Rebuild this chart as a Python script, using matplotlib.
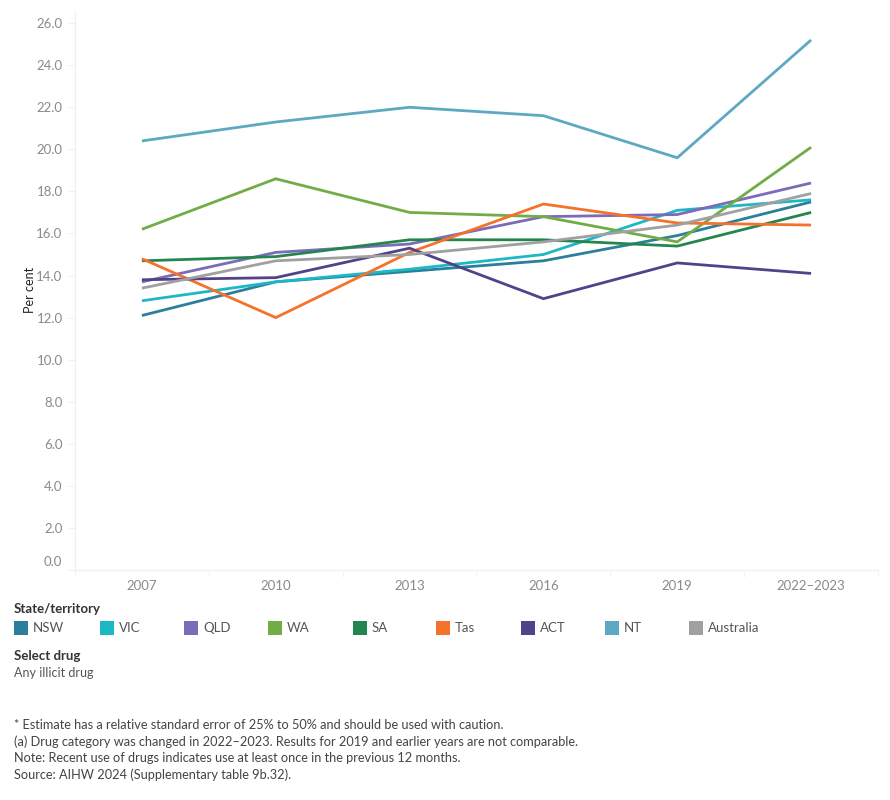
import matplotlib
matplotlib.use("Agg")
import matplotlib.pyplot as plt
from matplotlib.patches import Rectangle
import matplotlib.transforms as mtransforms

years = ["2007", "2010", "2013", "2016", "2019", "2022–2023"]
states = ["NSW", "VIC", "QLD", "WA", "SA", "Tas", "ACT", "NT", "Australia"]
colors = ["#2b7f9b", "#1db8c6", "#7b6bb8", "#72ac46", "#25854f", "#f4722b", "#52428a", "#5da9c1", "#a0a0a0"]

nsw = [12.1, 13.7, 14.2, 14.7, 15.9, 17.5]
vic = [12.8, 13.7, 14.3, 15.0, 17.1, 17.6]
qld = [13.7, 15.1, 15.5, 16.8, 16.9, 18.4]
wa = [16.2, 18.6, 17.0, 16.8, 15.6, 20.1]
sa = [14.7, 14.9, 15.7, 15.7, 15.4, 17.0]
tas = [14.8, 12.0, 15.1, 17.4, 16.5, 16.4]
act = [13.8, 13.9, 15.3, 12.9, 14.6, 14.1]
nt = [20.4, 21.3, 22.0, 21.6, 19.6, 25.2]
aus = [13.4, 14.7, 15.0, 15.6, 16.4, 17.9]
series = [nsw, vic, qld, wa, sa, tas, act, nt, aus]

yticks = [0, 2, 4, 6, 8, 10, 12, 14, 16, 18, 20, 22, 24, 26]

plt.rcParams['font.family'] = ['Lato', 'DejaVu Sans']

W, H = 890, 800
fig = plt.figure(figsize=(W / 100, H / 100), dpi=100)
ax = fig.add_axes([75 / W, 1 - 570 / H, (878 - 75) / W, (570 - 12) / H])

x = list(range(len(years)))
for vals, c in zip(series, colors):
    ax.plot(x, vals, color=c, lw=2.0, solid_capstyle='butt', solid_joinstyle='miter')

ax.set_xlim(-0.5, len(years) - 0.5)
ax.set_ylim(0, 26.53)
ax.set_yticks(yticks)
ax.set_yticklabels([f"{v:.1f}" for v in yticks])
ax.set_xticks(x)
ax.set_xticklabels(years)
ax.set_xticks([i - 0.5 for i in range(len(years) + 1)], minor=True)

for s in ["top", "right"]:
    ax.spines[s].set_visible(False)
for s in ["left", "bottom"]:
    ax.spines[s].set_color("#f0f0f0")
    ax.spines[s].set_linewidth(1.0)

ax.tick_params(axis='y', length=5, color="#f0f0f0", labelsize=9.5, labelcolor="#8a8a8a", pad=4)
ax.tick_params(axis='x', which='major', length=0, labelsize=9.5, labelcolor="#8a8a8a", pad=7)
ax.tick_params(axis='x', which='minor', length=5, color="#f0f0f0")

# nudge 0.0 label up like the reference
lab0 = ax.get_yticklabels()[0]
lab0.set_transform(lab0.get_transform() + mtransforms.ScaledTranslation(0, 9 / 100, fig.dpi_scale_trans))

fig.text(30 / W, 1 - 290 / H, "Per cent", rotation=90, fontsize=9, color="#222222", ha='center', va='center')

def ft(xp, yp, s, **kw):
    fig.text(xp / W, 1 - yp / H, s, va='center', ha='left', **kw)

ft(14, 609, "State/territory", fontsize=9.5, color="#333333", fontweight='bold')
leg_x = [14, 100, 184, 268, 353, 436, 521, 605, 689]
for lx, name, c in zip(leg_x, states, colors):
    fig.patches.append(Rectangle((lx / W, 1 - 635 / H), 14 / W, 14 / H, transform=fig.transFigure,
                                 facecolor=c, edgecolor='none'))
    ft(lx + 19, 628, name, fontsize=9.5, color="#555555")

ft(14, 656, "Select drug", fontsize=9.5, color="#333333", fontweight='bold')
ft(14, 673, "Any illicit drug", fontsize=9, color="#555555")

notes = [
    "* Estimate has a relative standard error of 25% to 50% and should be used with caution.",
    "(a) Drug category was changed in 2022–2023. Results for 2019 and earlier years are not comparable.",
    "Note: Recent use of drugs indicates use at least once in the previous 12 months.",
    "Source: AIHW 2024 (Supplementary table 9b.32).",
]
for i, n in enumerate(notes):
    ft(14, 725 + i * 16.5, n, fontsize=9.2, color="#444444")

fig.savefig("out.png", dpi=100)
